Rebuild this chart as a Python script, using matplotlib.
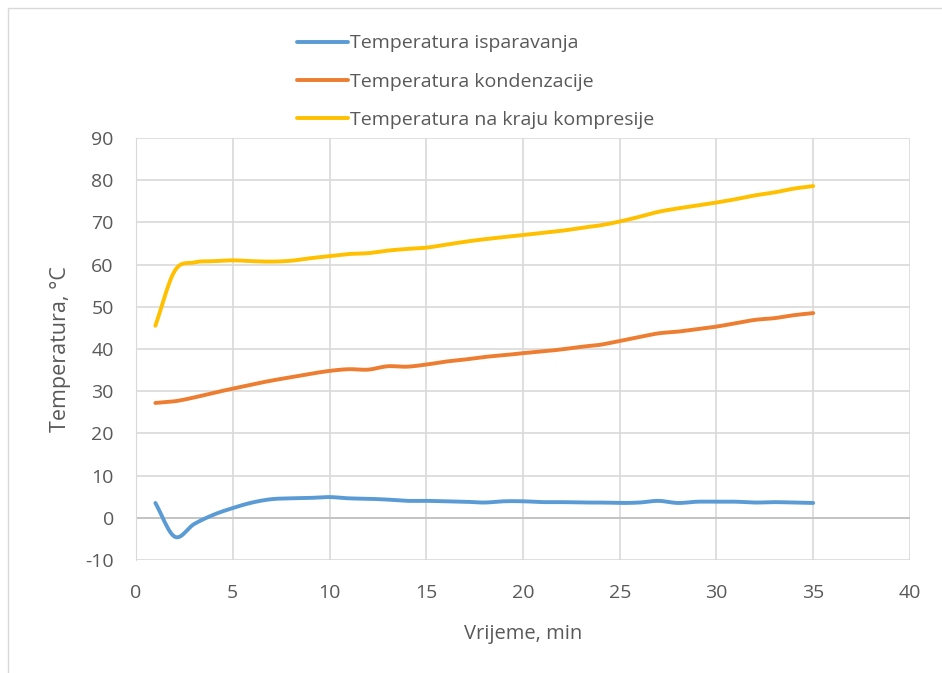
import numpy as np
import matplotlib.pyplot as plt
from matplotlib.patches import Rectangle

minutes = list(range(1, 36))
t_isparavanja = [3.5, -4.5, -1.5, 0.7, 2.3, 3.6, 4.4, 4.6, 4.7, 4.9,
                 4.6, 4.5, 4.3, 4.0, 4.0, 3.9, 3.8, 3.6, 3.9, 3.9,
                 3.7, 3.7, 3.6, 3.6, 3.5, 3.6, 4.0, 3.5, 3.8, 3.8,
                 3.8, 3.6, 3.7, 3.6, 3.5]
t_kondenzacije = [27.2, 27.6, 28.5, 29.6, 30.6, 31.6, 32.5, 33.3, 34.1, 34.8,
                  35.2, 35.1, 35.9, 35.8, 36.3, 37.0, 37.5, 38.1, 38.5, 39.0,
                  39.4, 39.9, 40.5, 41.0, 41.9, 42.8, 43.7, 44.1, 44.7, 45.3,
                  46.1, 46.9, 47.3, 48.0, 48.5]
t_kompresije = [45.5, 58.5, 60.5, 60.8, 61.0, 60.8, 60.7, 60.9, 61.5, 62.0,
                62.5, 62.7, 63.3, 63.7, 64.0, 64.7, 65.4, 66.0, 66.5, 67.0,
                67.5, 68.0, 68.7, 69.3, 70.2, 71.3, 72.5, 73.3, 74.0, 74.7,
                75.5, 76.4, 77.1, 78.0, 78.6]
labels = ["Temperatura isparavanja", "Temperatura kondenzacije",
          "Temperatura na kraju kompresije"]
colors = ["#5B9BD5", "#ED7D31", "#FFC000"]


def smooth(x, y, n=12):
    # Catmull-Rom curve through the points, like Excel's smoothed line
    x = np.asarray(x, float)
    y = np.asarray(y, float)
    px = np.concatenate([[2 * x[0] - x[1]], x, [2 * x[-1] - x[-2]]])
    py = np.concatenate([[2 * y[0] - y[1]], y, [2 * y[-1] - y[-2]]])
    xs, ys = [], []
    t = np.linspace(0, 1, n, endpoint=False)
    for i in range(1, len(px) - 2):
        for arr, out in ((px, xs), (py, ys)):
            p0, p1, p2, p3 = arr[i - 1], arr[i], arr[i + 1], arr[i + 2]
            out.extend(0.5 * (2 * p1 + (-p0 + p2) * t
                              + (2 * p0 - 5 * p1 + 4 * p2 - p3) * t ** 2
                              + (-p0 + 3 * p1 - 3 * p2 + p3) * t ** 3))
    xs.append(x[-1])
    ys.append(y[-1])
    return xs, ys


plt.rcParams['font.family'] = ['Open Sans', 'DejaVu Sans']
plt.rcParams['axes.unicode_minus'] = False

fig = plt.figure(figsize=(9.42, 6.73), dpi=100)
ax = fig.add_axes([0.1444, 0.168, 0.8216, 0.627])

fig.patches.append(Rectangle((8 / 942, -0.05), 1.2, 1 - 8 / 673 + 0.05,
                             transform=fig.transFigure, fill=False,
                             edgecolor='#d9d9d9', lw=1))

for series, lab, col in zip([t_isparavanja, t_kondenzacije, t_kompresije], labels, colors):
    sx, sy = smooth(minutes, series)
    ax.plot(sx, sy, color=col, lw=2.8, label=lab, solid_capstyle='round')

ax.set_xlim(0, 40)
ax.set_ylim(-10, 90)
ax.set_xticks(range(0, 41, 5))
ax.set_yticks(range(-10, 91, 10))
ax.grid(True, color='#d9d9d9', lw=1.2)
ax.set_axisbelow(True)
ax.axhline(0, color='#bfbfbf', lw=1.2, zorder=1)
for s in ['top', 'right', 'bottom']:
    ax.spines[s].set_visible(False)
ax.spines['left'].set_color('#d9d9d9')
ax.tick_params(length=0, labelsize=14, colors='#595959')
ax.tick_params(axis='y', pad=16)
ax.tick_params(axis='x', pad=17)
ax.set_xlabel("Vrijeme, min", fontsize=14.5, color='#595959', labelpad=16)
ax.set_ylabel("Temperatura, °C", fontsize=15.5, color='#595959', labelpad=10)

fig.legend(loc='upper left', bbox_to_anchor=(0.297, 0.975), frameon=False,
           fontsize=14, labelcolor='#595959', handlelength=2.6,
           handletextpad=0.1, labelspacing=1.05)

fig.savefig("out.png", dpi=100)
